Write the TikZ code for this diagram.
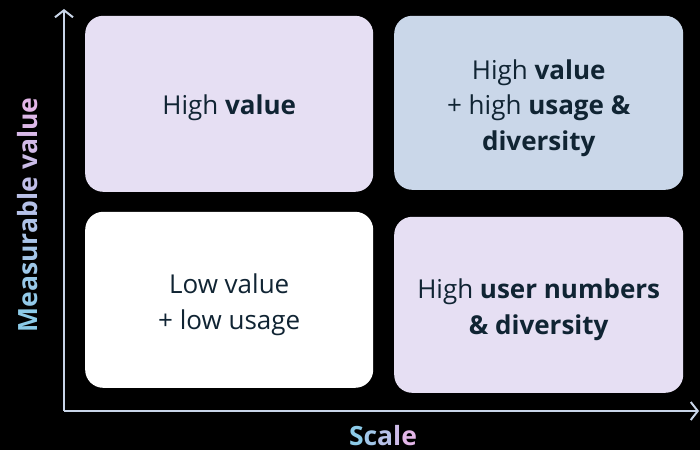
\documentclass[tikz,border=0pt]{standalone}
\usepackage{fontspec}
\setmainfont{Open Sans}
\usetikzlibrary{arrows.meta}
\definecolor{boxlilac}{HTML}{E6DFF3}
\definecolor{boxblue}{HTML}{CAD7E9}
\definecolor{inkdark}{HTML}{102433}
\definecolor{axisgrey}{HTML}{C9D5E8}
\definecolor{axblue}{HTML}{8CCBE8}
\definecolor{axpink}{HTML}{E3B6E8}
\tikzset{
  quad/.style={rounded corners=18pt, anchor=south west, inner sep=0pt},
  quadtext/.style={align=center, text=inkdark, font=\fontsize{26}{35.5}\selectfont, inner sep=0pt},
  axisline/.style={axisgrey, line width=2pt, -{Straight Barb[length=7pt,width=18pt]}},
}
\begin{document}
\begin{tikzpicture}[x=1pt, y=1pt]
\fill[black] (0,0) rectangle (700,450);
\useasboundingbox (0,0) rectangle (700,450);
% quadrants
\node[quad, fill=boxlilac, minimum width=288pt, minimum height=176pt] (hv) at (85,258) {};
\node[quad, fill=boxblue, minimum width=289pt, minimum height=174pt] (hvu) at (394,260) {};
\node[quad, fill=white, minimum width=288pt, minimum height=176pt] (lv) at (85,62) {};
\node[quad, fill=boxlilac, minimum width=289pt, minimum height=176pt] (hu) at (394,57) {};
\node[quadtext] (hvtext) at ([yshift=-4pt]hv.center) {High \textbf{value}};
\node[quadtext] (hvutext) at ([yshift=-5pt]hvu.center) {High \textbf{value}\\+ high \textbf{usage \&}\\\textbf{diversity}};
\node[quadtext] (lvtext) at ([yshift=-5pt]lv.center) {Low value\\+ low usage};
\node[quadtext] (hutext) at ([yshift=-5pt]hu.center) {High \textbf{user numbers}\\\textbf{\& diversity}};
% axes
\coordinate (o) at (64,39);
\coordinate (ytop) at (64,441);
\coordinate (xend) at (699,39);
\draw[axisline] (o.center) -- (ytop);
\draw[axisline] (o.center) -- (xend);
\node[rotate=90, font=\fontsize{26.5}{30}\selectfont\bfseries] (ylab) at (28,235) {%
\textcolor{axblue}{M}\textcolor{axpink!7!axblue}{e}\textcolor{axpink!13!axblue}{a}\textcolor{axpink!20!axblue}{s}%
\textcolor{axpink!27!axblue}{u}\textcolor{axpink!33!axblue}{r}\textcolor{axpink!40!axblue}{a}\textcolor{axpink!47!axblue}{b}%
\textcolor{axpink!53!axblue}{l}\textcolor{axpink!60!axblue}{e} \textcolor{axpink!73!axblue}{v}\textcolor{axpink!80!axblue}{a}%
\textcolor{axpink!87!axblue}{l}\textcolor{axpink!93!axblue}{u}\textcolor{axpink}{e}};
\node[anchor=base, inner sep=0pt, font=\fontsize{26.5}{30}\selectfont\bfseries] (xlab) at (383,5) {%
\textcolor{axblue}{S}\textcolor{axpink!25!axblue}{c}\textcolor{axpink!50!axblue}{a}\textcolor{axpink!75!axblue}{l}\textcolor{axpink}{e}};
\end{tikzpicture}
\end{document}
